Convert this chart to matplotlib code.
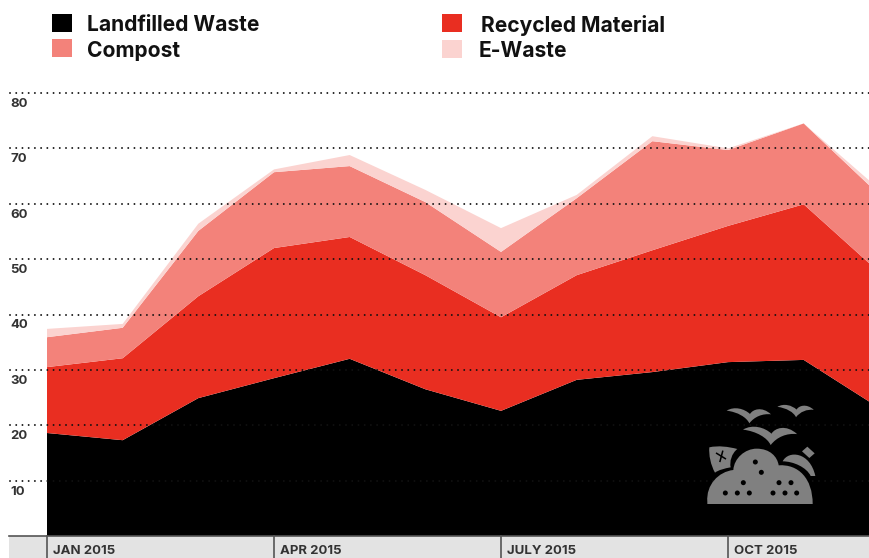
import matplotlib
matplotlib.use("Agg")
import matplotlib.pyplot as plt
import numpy as np
from matplotlib.path import Path
from matplotlib.patches import PathPatch, Rectangle, Circle, Polygon

# Monthly values, Jan to Dec 2015
landfill = np.array([18.6, 17.3, 24.9, 28.5, 32.0, 26.5, 22.6, 28.2, 29.6, 31.4, 31.8, 23.1])
recycled = np.array([11.9, 14.8, 18.4, 23.5, 22.0, 20.6, 16.9, 18.9, 22.0, 24.6, 28.1, 24.5])
compost = np.array([5.4, 5.5, 11.8, 13.7, 12.8, 13.2, 11.8, 13.9, 19.7, 13.7, 14.6, 14.0])
ewaste = np.array([1.5, 0.7, 1.3, 0.5, 2.0, 2.2, 4.3, 0.6, 0.9, 0.3, 0.0, 1.0])

series_names = ["Landfilled Waste", "Recycled Material", "Compost", "E-Waste"]
series_colors = ["#000000", "#e92e21", "#f3827a", "#fbd3d0"]
y_ticks = [10, 20, 30, 40, 50, 60, 70, 80]
quarter_pos = [0, 3, 6, 9]
quarter_labels = ["JAN 2015", "APR 2015", "JULY 2015", "OCT 2015"]

W, H = 869, 558
plt.rcParams["font.family"] = ["Inter", "DejaVu Sans"]
fig = plt.figure(figsize=(W / 100, H / 100), dpi=100)

# Main axes, left edge at first month, bottom on the zero line
left, bottom, top = 47, 536, 93
ax = fig.add_axes([left / W, (H - bottom) / H, (W - left) / W, (bottom - top) / H])
months = np.arange(12)
ax.stackplot(months, landfill, recycled, compost, ewaste, colors=series_colors, lw=0)
ax.set_xlim(0, (W - left) / 75.67)
ax.set_ylim(0, 80)
ax.axis("off")

# Dotted grid runs past the axes to the left, labels sit under it
x0 = (10 - left) / (W - left)
for v in y_ticks:
    ax.plot([x0, 1], [v, v], transform=ax.get_yaxis_transform(), color="#111111",
            lw=1.4, ls=(0, (0.01, 3.19)), dash_capstyle="round", clip_on=False, zorder=5)
    ax.annotate(str(v), (0, v), xycoords=ax.get_yaxis_transform(), xytext=(-26.5, -3.6),
                textcoords="offset points", ha="left", va="top", fontsize=9.5,
                fontweight="bold", color="#333333", annotation_clip=False)

# Overlay in image pixels for the legend, bottom band and icon
px = fig.add_axes([0, 0, 1, 1], facecolor="none")
px.set_xlim(0, W)
px.set_ylim(H, 0)
px.axis("off")

px.add_patch(Rectangle((9, 536), W - 9, 22, fc="#e3e3e3", ec="none"))
px.plot([9, W], [536, 536], color="#555555", lw=1.2)
for q, lab in zip(quarter_pos, quarter_labels):
    xp = left + q * 75.67
    px.plot([xp, xp], [536, H], color="#555555", lw=1.2)
    px.text(xp + 6, 551, lab, fontsize=9.5, fontweight="bold", color="#333333", va="center")

# Legend
swatches = [(52, 14), (442, 14), (52, 39), (442, 40)]
text_x = [87, 481, 87, 479]
text_y = [25, 25, 51, 51]
for (sx, sy), tx, ty, name, col in zip(swatches, text_x, text_y, series_names, series_colors):
    px.add_patch(Rectangle((sx, sy), 20, 18, fc=col, ec="none"))
    px.text(tx, ty, name, fontsize=15.1, fontweight="bold", color="#111111", va="center")

# Landfill icon, coordinates from a 3x crop starting at (690, 390)
def ic(pts):
    return [(690 + a / 3, 390 + b / 3) for a, b in pts]

def curve(start, segs, col="#808080"):
    verts = [start]
    codes = [Path.MOVETO]
    for s in segs:
        verts += list(s)
        codes += [Path.CURVE4] * 3 if len(s) == 3 else [Path.LINETO]
    verts.append(start)
    codes.append(Path.CLOSEPOLY)
    px.add_patch(PathPatch(Path(ic(verts), codes), fc=col, ec="none", zorder=6))

grey = "#808080"
# mound
curve((52, 342), [[(52, 335)], [(48, 285), (85, 245), (130, 240)],
                  [(132, 205), (165, 176), (200, 176)], [(240, 176), (262, 200), (266, 226)],
                  [(325, 222), (368, 265), (368, 342)]])
# leaf and bottle
curve((58, 172), [[(85, 166), (115, 170), (142, 177)], [(125, 190), (118, 215), (122, 232)],
                  [(105, 235), (85, 240), (75, 248)], [(62, 225), (56, 195), (58, 172)]])
curve((278, 214), [[(295, 180), (360, 185), (376, 258)], [(362, 258)],
                   [(350, 232), (310, 214), (278, 214)]])
px.add_patch(Polygon(ic([(336, 184), (352, 170), (374, 190), (358, 204)]), fc=grey, ec="none", zorder=6))
# birds
for bx, by, s in [(178, 76, 1.0), (318, 62, 0.82), (242, 136, 1.22)]:
    pt = lambda a, b: (bx + a * s, by + b * s)
    curve(pt(-68, -14), [[pt(-45, -28), pt(-15, -20), pt(2, -4)],
                         [pt(10, -18), pt(38, -28), pt(65, -3)],
                         [pt(40, -6), pt(15, 4), pt(0, 24)],
                         [pt(-8, 6), pt(-35, -10), pt(-68, -14)]])
# dots in the mound
dots = [(196, 216), (214, 247), (160, 278), (106, 309), (142, 309), (178, 309),
        (267, 278), (303, 278), (249, 309), (285, 309), (320, 309)]
for (dx, dy) in ic(dots):
    px.add_patch(Circle((dx, dy), 2.5, fc="#000000", ec="none", zorder=7))
# the small cross on the leaf
px.plot(*zip(*ic([(80, 190), (106, 206)])), color="#000000", lw=1.1, zorder=7)
px.plot(*zip(*ic([(98, 184), (90, 214)])), color="#000000", lw=1.1, zorder=7)

fig.savefig("out.png", dpi=100)
